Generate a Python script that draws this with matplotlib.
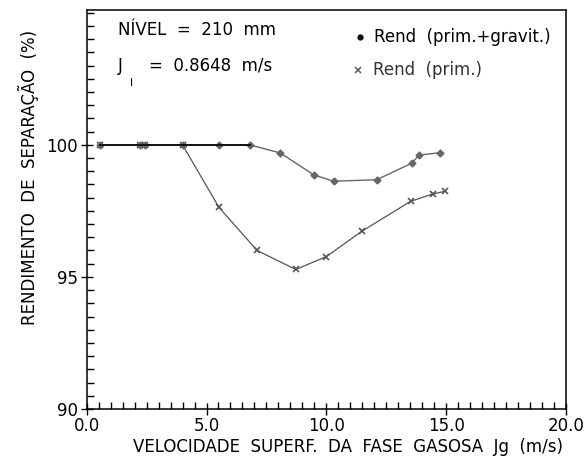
import matplotlib.pyplot as plt
from matplotlib.ticker import MultipleLocator

# Rendimento (prim.+gravit.)
jg_grav = [0.58, 2.22, 2.43, 4.0, 5.52, 6.8, 8.08, 9.48, 10.3, 12.1, 13.57, 13.86, 14.72]
rend_grav = [100.0, 100.0, 100.0, 100.0, 100.0, 100.0, 99.69, 98.86, 98.62, 98.68, 99.31, 99.61, 99.70]

# Rendimento (prim.)
jg_prim = [0.58, 2.22, 2.43, 4.0, 5.52, 7.11, 8.72, 10.0, 11.48, 13.51, 14.44, 14.93]
rend_prim = [100.0, 100.0, 100.0, 100.0, 97.63, 96.0, 95.28, 95.77, 96.73, 97.86, 98.14, 98.24]

plt.rcParams['font.family'] = 'DejaVu Sans'
fig = plt.figure(figsize=(5.85, 4.59), dpi=100)
ax = fig.add_axes([0.148, 0.109, 0.82, 0.869])

ax.plot(jg_prim, rend_prim, color='#555555', lw=0.9, marker='x', ms=5, mew=1.2)
ax.plot(jg_grav, rend_grav, color='#666666', lw=1.0, marker='D', ms=3.5)
ax.plot(jg_grav[:6], rend_grav[:6], color='#111111', lw=1.4)

ax.set_xlim(0, 20)
ax.set_ylim(90, 105.1)
ax.set_xticks([0, 5, 10, 15, 20])
ax.set_xticklabels(['0.0', '5.0', '10.0', '15.0', '20.0'])
ax.set_yticks([90, 95, 100])
ax.xaxis.set_minor_locator(MultipleLocator(0.5))
ax.yaxis.set_minor_locator(MultipleLocator(0.5))
ax.tick_params(which='major', direction='inout', length=9, width=1, labelsize=12, pad=2)
ax.tick_params(which='minor', direction='in', length=5, width=1)
ax.tick_params(axis='x', pad=1)
for s in ax.spines.values():
    s.set_linewidth(1.1)

ax.set_xlabel('VELOCIDADE  SUPERF.  DA  FASE  GASOSA  Jg  (m/s)', fontsize=12)
ax.xaxis.set_label_coords(0.544, -0.072)
ax.set_ylabel('RENDIMENTO  DE  SEPARAÇÃO  (%)', fontsize=12)
ax.yaxis.set_label_coords(-0.10, 0.58)

fs = 12
ax.text(1.3, 104.35, 'NÍVEL  =  210  mm', fontsize=fs, va='center')
ax.text(1.3, 103.0, 'J', fontsize=fs, va='center')
ax.text(1.8, 102.35, 'l', fontsize=8, va='center')
ax.text(2.6, 103.0, '=  0.8648  m/s', fontsize=fs, va='center')

ax.plot([11.4], [104.1], 'o', color='#111111', ms=3.5)
ax.text(12.0, 104.1, 'Rend  (prim.+gravit.)', fontsize=fs, va='center')
ax.plot([11.3], [102.85], 'x', color='#555555', ms=4, mew=1.1)
ax.text(11.95, 102.85, 'Rend  (prim.)', fontsize=fs, va='center', color='#333333')

fig.savefig('out.png', dpi=100)
